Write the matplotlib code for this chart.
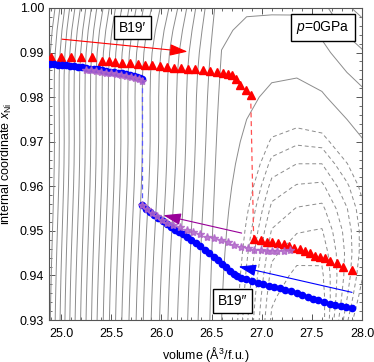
import matplotlib
matplotlib.use("Agg")
import matplotlib.pyplot as plt
import numpy as np

plt.rcParams['font.family'] = ['Liberation Sans', 'DejaVu Sans']
plt.rcParams['mathtext.fontset'] = 'custom'
plt.rcParams['mathtext.rm'] = 'Liberation Sans'
plt.rcParams['mathtext.it'] = 'Liberation Sans:italic'

# energy surface behind the paths, estimated on a coarse grid:
# E = e0(V) + k(V) * (x - x0(V))**2 - well(V) * well_x(x)
grid_v = [24.6, 24.85, 25.1, 25.35, 25.6, 25.85, 26.1, 26.35, 26.6, 26.85,
          27.1, 27.35, 27.6, 27.85, 28.1]
e0_v = [7.56, 6.25, 5.06, 4.00, 3.06, 2.25, 1.56, 1.00, 0.515, 0.272,
        0.058, 0.010, 0.063, 0.245, 0.400]
k_v = [107, 107, 107, 107, 107, 107, 107, 80, 42, 70,
       100, 107, 175, 310, 390]
x0_v = [0.915, 0.915, 0.915, 0.915, 0.915, 0.915, 0.915, 0.915, 0.915, 0.915,
        0.915, 0.915, 0.930, 0.945, 0.950]
well_v = [1.0, 1.0, 0.99, 0.99, 0.97, 0.94, 0.87, 0.50, 0.0, 0.0,
          0.0, 0.0, 0.0, 0.0, 0.0]
grid_x = [0.925, 0.930, 0.935, 0.940, 0.945, 0.950, 0.955, 0.960, 0.965,
          0.970, 0.975, 0.980, 0.985, 0.990, 0.995, 1.000, 1.005]
well_x = [0.0, 0.0, 0.0, 0.0, 0.001, 0.004, 0.012, 0.027, 0.057,
          0.104, 0.170, 0.244, 0.310, 0.347, 0.342, 0.298, 0.229]

# B19' -> B19'' (red, increasing volume)
red_up_v = [24.90, 25.00, 25.10, 25.20, 25.31, 25.41, 25.48, 25.54, 25.61, 25.69,
            25.77, 25.84, 25.91, 25.99, 26.06, 26.13, 26.20, 26.27, 26.34, 26.41,
            26.48, 26.55, 26.61, 26.66, 26.70, 26.74, 26.78, 26.84, 26.89]
red_up_x = [0.9891, 0.9891, 0.9890, 0.9890, 0.9889, 0.9882, 0.9880, 0.9879, 0.9877, 0.9876,
            0.9874, 0.9872, 0.9871, 0.9869, 0.9868, 0.9866, 0.9865, 0.9864, 0.9862, 0.9861,
            0.9859, 0.9857, 0.9855, 0.9852, 0.9849, 0.9840, 0.9828, 0.9816, 0.9805]
red_lo_v = [26.92, 26.99, 27.05, 27.10, 27.16, 27.22, 27.27, 27.32, 27.38, 27.43,
            27.48, 27.53, 27.58, 27.63, 27.68, 27.75, 27.81, 27.90]
red_lo_x = [0.9481, 0.9480, 0.9476, 0.9474, 0.9472, 0.9470, 0.9466, 0.9461, 0.9459, 0.9454,
            0.9450, 0.9444, 0.9442, 0.9439, 0.9433, 0.9428, 0.9420, 0.9413]

# blue (decreasing volume)
blue_up_v = [24.89, 24.93, 24.97, 25.01, 25.05, 25.09, 25.13, 25.17, 25.21, 25.25,
             25.29, 25.33, 25.37, 25.41, 25.45, 25.49, 25.53, 25.57, 25.61, 25.65,
             25.69, 25.73, 25.76, 25.79, 25.81]
blue_up_x = [0.9875, 0.9874, 0.9873, 0.9872, 0.9871, 0.9870, 0.9869, 0.9868, 0.9867, 0.9866,
             0.9864, 0.9863, 0.9862, 0.9860, 0.9859, 0.9857, 0.9856, 0.9855, 0.9853, 0.9852,
             0.9850, 0.9848, 0.9846, 0.9843, 0.9840]
blue_lo_v = [25.81, 25.85, 25.89, 25.93, 25.97, 26.02, 26.06, 26.10, 26.14, 26.18,
             26.22, 26.26, 26.30, 26.35, 26.39, 26.43, 26.47, 26.52, 26.56, 26.60,
             26.64, 26.68, 26.72, 26.75, 26.79, 26.84, 26.90, 26.96, 27.01, 27.07,
             27.12, 27.18, 27.23, 27.29, 27.35, 27.40, 27.46, 27.51, 27.56, 27.62,
             27.68, 27.73, 27.79, 27.84, 27.90]
blue_lo_x = [0.9558, 0.9550, 0.9543, 0.9536, 0.9529, 0.9521, 0.9515, 0.9509, 0.9503, 0.9498,
             0.9493, 0.9487, 0.9480, 0.9472, 0.9465, 0.9458, 0.9451, 0.9442, 0.9434, 0.9426,
             0.9418, 0.9410, 0.9403, 0.9399, 0.9395, 0.9391, 0.9388, 0.9384, 0.9380, 0.9377,
             0.9374, 0.9371, 0.9368, 0.9364, 0.9360, 0.9357, 0.9352, 0.9348, 0.9344, 0.9341,
             0.9337, 0.9334, 0.9331, 0.9329, 0.9327]

# purple stars (decreasing volume, second run)
pur_up_v = [25.25, 25.30, 25.35, 25.40, 25.45, 25.50, 25.55, 25.60, 25.65, 25.70,
            25.74, 25.78, 25.81]
pur_up_x = [0.9861, 0.9860, 0.9858, 0.9856, 0.9855, 0.9853, 0.9852, 0.9850, 0.9848, 0.9846,
            0.9844, 0.9841, 0.9837]
pur_lo_v = [25.81, 25.86, 25.91, 25.96, 26.01, 26.06, 26.12, 26.19, 26.26, 26.32,
            26.39, 26.45, 26.52, 26.59, 26.66, 26.72, 26.79, 26.86, 26.92, 26.99,
            27.05, 27.10, 27.15, 27.22, 27.28]
pur_lo_x = [0.9557, 0.9549, 0.9541, 0.9533, 0.9525, 0.9518, 0.9513, 0.9508, 0.9502, 0.9497,
            0.9492, 0.9487, 0.9483, 0.9479, 0.9474, 0.9469, 0.9464, 0.9461, 0.9458, 0.9457,
            0.9455, 0.9454, 0.9454, 0.9455, 0.9456]

fig = plt.figure(figsize=(3.74, 3.62), dpi=100)
ax = fig.add_axes([0.131, 0.116, 0.837, 0.862])

V, X = np.meshgrid(grid_v, grid_x)
E = (np.array(e0_v)[None, :]
     + np.array(k_v)[None, :] * (X - np.array(x0_v)[None, :]) ** 2
     - np.array(well_v)[None, :] * np.array(well_x)[:, None])

solid_levels = np.arange(0.524, 8.0, 0.231)
dashed_levels = np.arange(0.090, 0.40, 0.047)
ax.contour(V, X, E, levels=solid_levels, colors='#8c8c8c', linewidths=0.7)
ax.contour(V, X, E, levels=dashed_levels, colors='#8c8c8c', linewidths=0.7,
           linestyles=[(0, (4, 3))])

# transitions
ax.plot([red_up_v[-1], red_lo_v[0]], [red_up_x[-1], red_lo_x[0]],
        color='#ff5050', lw=0.9, ls=(0, (4, 3)), zorder=3)
ax.plot([blue_up_v[-1], blue_lo_v[0]], [blue_up_x[-1], blue_lo_x[0]],
        color='#5a5aff', lw=0.9, ls=(0, (4, 3)), zorder=3)

ax.plot(red_up_v, red_up_x, ls='none', marker='^', ms=6.3, color='red', mec='red', zorder=4)
ax.plot(red_lo_v, red_lo_x, ls='none', marker='^', ms=6.3, color='red', mec='red', zorder=4)
ax.plot(blue_up_v, blue_up_x, ls='none', marker='o', ms=4.5, color='#0000ff', mec='#0000ff', zorder=5)
ax.plot(blue_lo_v, blue_lo_x, ls='none', marker='o', ms=4.5, color='#0000ff', mec='#0000ff', zorder=5)
ax.plot(pur_up_v, pur_up_x, ls='none', marker='*', ms=6, color='#b066c8', mec='#b066c8',
        alpha=0.85, zorder=6)
ax.plot(pur_lo_v, pur_lo_x, ls='none', marker='*', ms=6, color='#b066c8', mec='#b066c8',
        alpha=0.85, zorder=6)

# arrows
def arrow(x0, y0, x1, y1, c):
    ax.annotate('', xy=(x1, y1), xytext=(x0, y0),
                arrowprops=dict(arrowstyle='-|>,head_length=0.9,head_width=0.3',
                                color=c, lw=0.8, shrinkA=0, shrinkB=0,
                                mutation_scale=12), zorder=7)

arrow(25.01, 0.9930, 26.26, 0.9902, 'red')
arrow(26.80, 0.9495, 26.02, 0.9535, '#990099')
arrow(27.90, 0.9362, 26.77, 0.9420, '#0000ff')

box = dict(boxstyle='square,pad=0.35', fc='white', ec='black', lw=1.0)
ax.text(25.71, 0.9956, 'B19\u2032', fontsize=10, ha='center', va='center', bbox=box, zorder=8)
ax.text(27.61, 0.9956, '$p$=0GPa', fontsize=10, ha='center', va='center', bbox=box, zorder=8)
ax.text(26.71, 0.9343, 'B19\u2033', fontsize=10, ha='center', va='center', bbox=box, zorder=8)

ax.set_xlim(24.88, 28.0)
ax.set_ylim(0.93, 1.0)
ax.set_xticks([25.0, 25.5, 26.0, 26.5, 27.0, 27.5, 28.0])
ax.set_yticks([0.93, 0.94, 0.95, 0.96, 0.97, 0.98, 0.99, 1.00])
ax.set_xticklabels(['25.0', '25.5', '26.0', '26.5', '27.0', '27.5', '28.0'])
ax.set_yticklabels(['0.93', '0.94', '0.95', '0.96', '0.97', '0.98', '0.99', '1.00'])
ax.xaxis.set_minor_locator(matplotlib.ticker.MultipleLocator(0.1))
ax.yaxis.set_minor_locator(matplotlib.ticker.MultipleLocator(0.002))
ax.tick_params(which='both', direction='in', top=True, right=True, color='#555555',
               labelsize=9)
ax.tick_params(axis='x', which='major', pad=6)
ax.tick_params(which='major', length=4, width=0.7)
ax.tick_params(which='minor', length=2, width=0.6)
for s in ax.spines.values():
    s.set_color('#555555')
    s.set_linewidth(0.8)

ax.set_xlabel('volume (\u00c5$^3$/f.u.)', fontsize=9, labelpad=3)
ax.set_ylabel('internal coordinate $x_{\\rm Ni}$', fontsize=9, labelpad=4)

fig.savefig('out.png', dpi=100)
